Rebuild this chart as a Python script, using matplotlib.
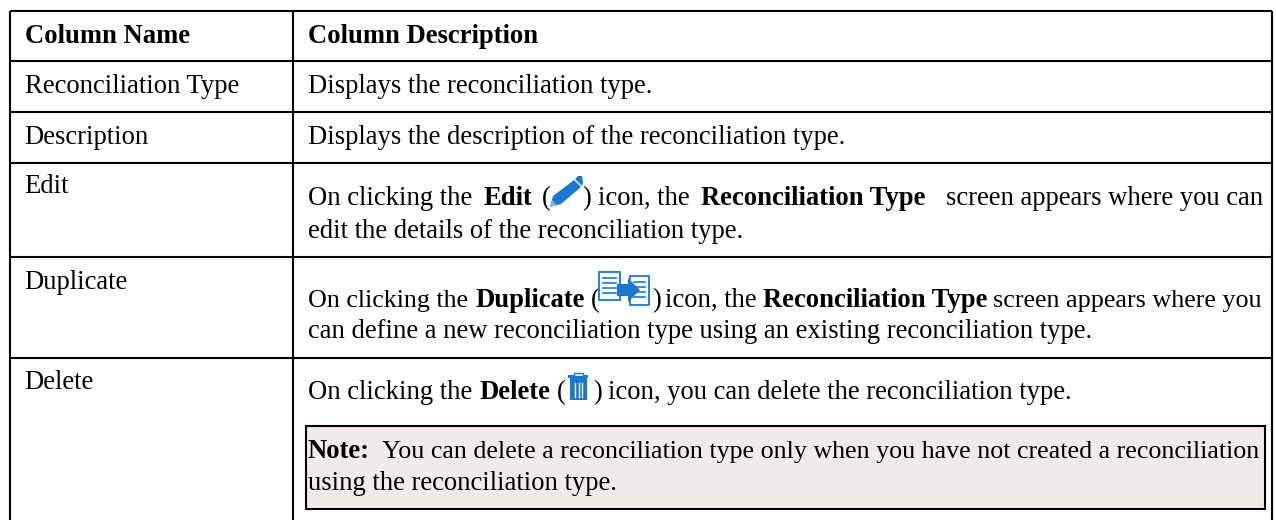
import matplotlib
matplotlib.use("Agg")
import matplotlib.pyplot as plt
from matplotlib.patches import Polygon, Rectangle

FONT = "Liberation Serif"
FS = 19.2
W, H = 1276, 520

headers = ["Column Name", "Column Description"]
names = ["Reconciliation Type", "Description", "Edit", "Duplicate", "Delete"]
name_x = [25, 24, 24, 24, 24]
name_baselines = [93, 144, 193, 289, 389]
header_baseline = 43

# (x, baseline, text, bold, horizontal alignment, font size)
desc_runs = [
    (308, 93, "Displays the reconciliation type.", False, "left", FS),
    (308, 144, "Displays the description of the reconciliation type.", False, "left", FS),
    (308, 205, "On clicking the", False, "left", FS),
    (484, 205, "Edit", True, "left", FS),
    (542, 205, "(", False, "left", FS),
    (582, 205, ")", False, "left", FS),
    (598, 205, "icon, the", False, "left", FS),
    (701, 205, "Reconciliation Type", True, "left", FS),
    (1263, 205, "screen appears where you can", False, "right", FS),
    (308, 238, "edit the details of the reconciliation type.", False, "left", FS),
    (308, 307, "On clicking the", False, "left", 18.7),
    (475, 307, "Duplicate", True, "left", FS),
    (591, 307, "(", False, "left", FS),
    (652, 307, ")", False, "left", FS),
    (665, 307, "icon, the", False, "left", FS),
    (763, 307, "Reconciliation Type", True, "left", FS),
    (1262, 307, "screen appears where you", False, "right", 18.8),
    (308, 338, "can define a new reconciliation type using an existing reconciliation type.", False, "left", FS),
    (308, 399, "On clicking the", False, "left", FS),
    (479, 399, "Delete", True, "left", FS),
    (557, 399, "(", False, "left", FS),
    (593, 399, ")", False, "left", FS),
    (608, 399, "icon, you can delete the reconciliation type.", False, "left", FS),
    (308, 458, "Note:", True, "left", FS),
    (382, 458, "You can delete a reconciliation type only when you have not created a reconciliation", False, "left", 18.75),
    (308, 490, "using the reconciliation type.", False, "left", FS),
]

h_rules = [11, 61, 112, 163, 257, 358]
v_rules = [9.5, 293, 1272]
table_bottom = 520

fig = plt.figure(figsize=(W / 100, H / 100), dpi=100, facecolor="white")
ax = fig.add_axes([0, 0, 1, 1])
ax.set_xlim(0, W)
ax.set_ylim(H, 0)
ax.axis("off")

for y in h_rules:
    ax.plot([v_rules[0], v_rules[-1]], [y, y], color="black", lw=1.5, solid_capstyle="butt")
for x in v_rules:
    ax.plot([x, x], [h_rules[0], table_bottom], color="black", lw=1.5, solid_capstyle="butt")

ax.add_patch(Rectangle((306, 426), 959, 83, facecolor="#f0ebe9", edgecolor="black", lw=1.5, zorder=1))

def put(x, y, s, bold=False, ha="left", size=FS):
    ax.text(x, y, s, family=FONT, fontsize=size, color="black", va="baseline", ha=ha,
            fontweight="bold" if bold else "normal", zorder=3)

put(25, header_baseline, headers[0], True)
put(308, header_baseline, headers[1], True)
for s, x, y in zip(names, name_x, name_baselines):
    put(x, y, s)
for x, y, s, b, ha, size in desc_runs:
    put(x, y, s, b, ha, size)

BLUE = "#1a78d2"
# pencil icon
ax.add_patch(Polygon([(550, 207), (553, 196), (574, 180), (581, 187), (561, 204)], facecolor=BLUE, edgecolor="none", zorder=3))
ax.add_patch(Polygon([(575, 179), (578, 176), (582, 176), (583, 182), (582, 186)], facecolor=BLUE, edgecolor="none", zorder=3))
ax.add_patch(Polygon([(550, 207), (552, 200), (557, 205)], facecolor="#7db6ea", edgecolor="none", zorder=4))
# duplicate icon
for x0, x1, top, bot in [(599, 620, 272, 300), (630, 649, 276, 305)]:
    ax.add_patch(Rectangle((x0, top), x1 - x0, bot - top, facecolor="white", edgecolor=BLUE, lw=1.3, zorder=3))
    for yy in range(top + 6, bot - 3, 5):
        ax.plot([x0 + 4, x1 - 4], [yy, yy], color=BLUE, lw=1.2, zorder=4)
ax.add_patch(Polygon([(617, 284), (628, 284), (628, 278), (640, 290), (628, 302), (628, 296), (617, 296)], facecolor=BLUE, edgecolor="none", zorder=5))
# trash icon
ax.add_patch(Rectangle((570, 378), 17, 22, facecolor=BLUE, edgecolor="none", zorder=3))
ax.add_patch(Rectangle((568, 375), 20, 3, facecolor=BLUE, edgecolor="none", zorder=3))
ax.add_patch(Rectangle((574, 373), 9, 3, facecolor="white", edgecolor=BLUE, lw=1, zorder=3))
for xx in (575, 578.5, 582):
    ax.plot([xx, xx], [383, 397], color="white", lw=1, zorder=4)

fig.savefig("out.png", dpi=100, facecolor="white")
